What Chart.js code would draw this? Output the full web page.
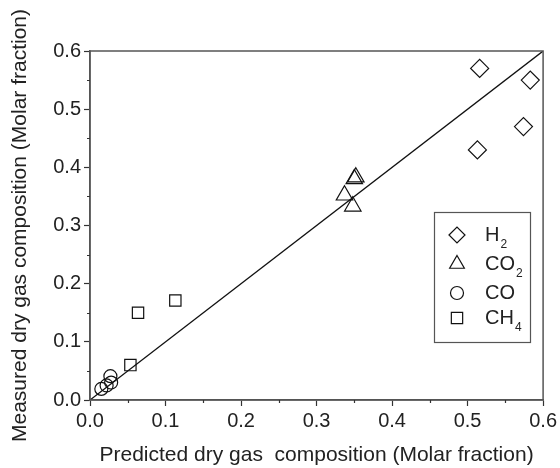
<!DOCTYPE html>
<html>
<head>
<meta charset="utf-8">
<script src="https://cdn.jsdelivr.net/npm/chart.js@4"></script>
<style>
  html, body { margin: 0; padding: 0; background: #fff; }
  #wrap { width: 560px; height: 468px; }
</style>
</head>
<body>
<div id="wrap"><canvas id="c" width="560" height="468"></canvas></div>
<script>
// predicted (x) vs measured (y) molar fractions
const h2X = [0.516, 0.583, 0.574, 0.513];
const h2Y = [0.570, 0.550, 0.470, 0.430];
const co2X = [0.350, 0.352, 0.337, 0.348];
const co2Y = [0.380, 0.383, 0.352, 0.333];
const coX = [0.015, 0.022, 0.028, 0.027];
const coY = [0.019, 0.025, 0.030, 0.041];
const ch4X = [0.0535, 0.0636, 0.113];
const ch4Y = [0.060, 0.150, 0.171];
const parityLine = [0, 0.6];

const legendItems = [
  { name: 'H', sub: '2', style: 'rectRot', r: 8 },
  { name: 'CO', sub: '2', style: 'triangle', r: 8.5 },
  { name: 'CO', sub: '', style: 'circle', r: 6.5 },
  { name: 'CH', sub: '4', style: 'rect', r: 8 }
];

const FONT = '"Liberation Sans", Arial, sans-serif';

function pts(xs, ys) {
  return xs.map((x, i) => ({ x: x, y: ys[i] }));
}

function scatterSet(label, xs, ys, style, r) {
  return {
    type: 'scatter',
    label: label,
    data: pts(xs, ys),
    pointStyle: style,
    pointRadius: r,
    pointHoverRadius: r,
    pointBorderColor: '#111',
    pointBackgroundColor: 'rgba(0,0,0,0)',
    pointBorderWidth: 1.2
  };
}

// box round the plot, minor ticks, and the legend with subscripts
const frame = {
  id: 'frame',
  afterDraw(chart) {
    const ctx = chart.ctx;
    const a = chart.chartArea;
    const xs = chart.scales.x, ys = chart.scales.y;
    ctx.save();
    ctx.strokeStyle = '#555';
    ctx.lineWidth = 1.5;
    ctx.strokeRect(a.left, a.top, a.right - a.left, a.bottom - a.top);

    ctx.strokeStyle = '#333';
    ctx.lineWidth = 1.2;
    ctx.beginPath();
    for (let v = 0.05; v < 0.6; v += 0.1) {
      const px = Math.round(xs.getPixelForValue(v)) + 0.5;
      ctx.moveTo(px, a.bottom);
      ctx.lineTo(px, a.bottom + 3);
      const py = Math.round(ys.getPixelForValue(v)) + 0.5;
      ctx.moveTo(a.left, py);
      ctx.lineTo(a.left - 3, py);
    }
    ctx.stroke();

    // legend
    const bx = 434, by = 212, bw = 96, bh = 130;
    ctx.strokeStyle = '#555';
    ctx.lineWidth = 1.2;
    ctx.strokeRect(bx + 0.5, by + 0.5, bw, bh);
    const rows = [235, 264, 293, 318];
    legendItems.forEach((it, i) => {
      const y = rows[i];
      ctx.strokeStyle = '#111';
      ctx.fillStyle = 'rgba(0,0,0,0)';
      ctx.lineWidth = 1.2;
      Chart.helpers.drawPoint(ctx, { pointStyle: it.style, radius: it.r, rotation: 0, borderWidth: 1.2 }, 457, y);
      ctx.fillStyle = '#222';
      ctx.font = '20px ' + FONT;
      ctx.textBaseline = 'middle';
      ctx.textAlign = 'left';
      ctx.fillText(it.name, 485, y);
      if (it.sub) {
        const w = ctx.measureText(it.name).width;
        ctx.font = '12px ' + FONT;
        ctx.fillText(it.sub, 485 + w + 1, y + 10);
      }
    });
    ctx.restore();
  }
};

const tickFmt = v => {
  const k = Math.round(v * 100);
  return k % 10 === 0 ? (k / 100).toFixed(1) : '';
};

new Chart(document.getElementById('c'), {
  data: {
    datasets: [
      {
        type: 'line',
        label: 'y = x',
        data: pts(parityLine, parityLine),
        borderColor: '#111',
        borderWidth: 1.3,
        pointRadius: 0,
        fill: false
      },
      scatterSet('H2', h2X, h2Y, 'rectRot', 9),
      scatterSet('CO2', co2X, co2Y, 'triangle', 9.5),
      scatterSet('CO', coX, coY, 'circle', 6.5),
      scatterSet('CH4', ch4X, ch4Y, 'rect', 8)
    ]
  },
  options: {
    responsive: false,
    animation: false,
    layout: { padding: { left: 0, top: 51, right: 14, bottom: 0 } },
    plugins: {
      legend: { display: false },
      tooltip: { enabled: false }
    },
    scales: {
      x: {
        type: 'linear',
        min: 0, max: 0.6,
        afterFit(s) { s.height = 68; },
        ticks: {
          stepSize: 0.1,
          color: '#222',
          font: { family: FONT, size: 20 },
          padding: 3,
          maxRotation: 0,
          callback: tickFmt
        },
        grid: { drawOnChartArea: false, drawTicks: true, tickLength: 6, color: '#333', tickWidth: 1.2 },
        border: { display: true, color: '#555', width: 1.5 },
        title: {
          display: true,
          text: 'Predicted dry gas  composition (Molar fraction)',
          color: '#222',
          font: { family: FONT, size: 21 },
          padding: { top: 4, bottom: 0 }
        }
      },
      y: {
        type: 'linear',
        min: 0, max: 0.6,
        afterFit(s) { s.width = 90; },
        ticks: {
          stepSize: 0.1,
          color: '#222',
          font: { family: FONT, size: 20 },
          padding: 3,
          callback: tickFmt
        },
        grid: { drawOnChartArea: false, drawTicks: true, tickLength: 6, color: '#333', tickWidth: 1.2 },
        border: { display: true, color: '#555', width: 1.5 },
        title: {
          display: true,
          text: 'Measured dry gas composition (Molar fraction)',
          color: '#222',
          font: { family: FONT, size: 21 },
          padding: { top: 8, bottom: 4 }
        }
      }
    }
  },
  plugins: [frame]
});
</script>
</body>
</html>
